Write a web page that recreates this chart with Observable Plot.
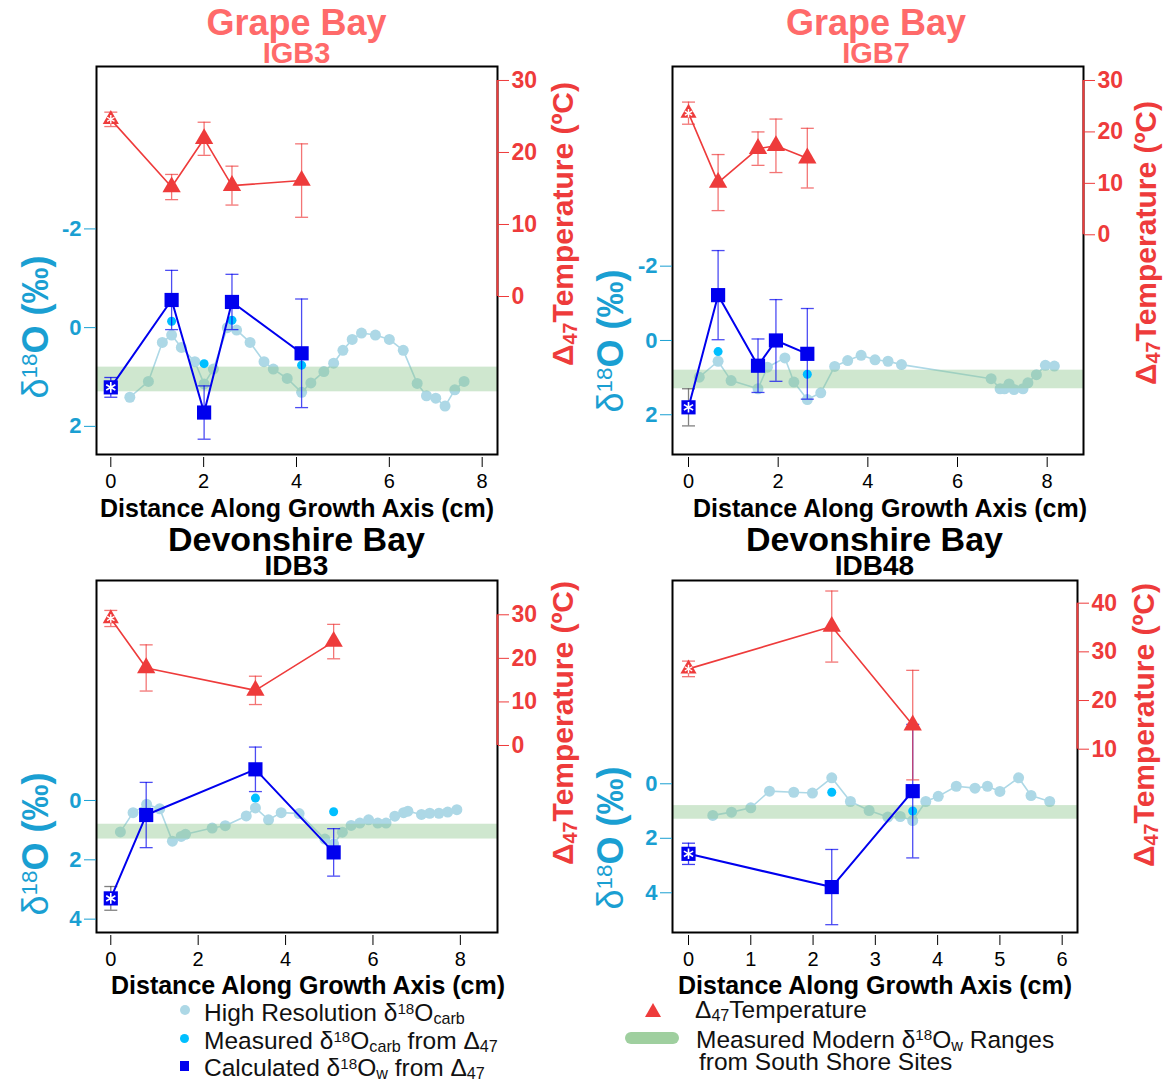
<!DOCTYPE html>
<html>
<head>
<meta charset="utf-8">
<script src="https://cdn.jsdelivr.net/npm/d3@7"></script>
<script src="https://cdn.jsdelivr.net/npm/@observablehq/plot@0.6"></script>
<style>
  body { margin: 0; background: #fff; font-family: "Liberation Sans", Arial, sans-serif; }
  #root { position: relative; width: 1165px; height: 1084px; overflow: hidden; background: #fff; }
  .sup { font-size: 62%; position: relative; top: -0.5em; }
  .sub { font-size: 66%; position: relative; top: 0.2em; }
  .nb { font-weight: normal; }
</style>
</head>
<body>
<div id="root"></div>
<script>
// ---------------- DATA ----------------
const sites = ["Grape Bay", "Grape Bay", "Devonshire Bay", "Devonshire Bay"];
const specimens = ["IGB3", "IGB7", "IDB3", "IDB48"];
const xAxisLabel = "Distance Along Growth Axis (cm)";
const modernRange = [0.8, 1.3]; // measured modern d18Ow range, south shore sites

// IGB3
const igb3HiResX = [0.41, 0.81, 1.11, 1.31, 1.52, 1.81, 2.01, 2.21, 2.51, 2.71, 3.00, 3.30, 3.50, 3.80, 4.11, 4.31, 4.59, 4.80, 5.00, 5.20, 5.40, 5.70, 6.00, 6.30, 6.60, 6.80, 7.00, 7.20, 7.41, 7.61];
const igb3HiResD18O = [1.41, 1.09, 0.30, 0.15, 0.40, 0.69, 1.14, 0.84, 0.00, 0.05, 0.30, 0.69, 0.84, 1.03, 1.31, 1.12, 0.89, 0.72, 0.46, 0.24, 0.11, 0.15, 0.24, 0.46, 1.13, 1.38, 1.43, 1.59, 1.26, 1.09];
const igb3MeasX = [1.31, 2.01, 2.61, 4.11];
const igb3MeasD18O = [-0.13, 0.73, -0.15, 0.76];
const igb3CalcX = [0, 1.31, 2.01, 2.61, 4.11];
const igb3CalcD18Ow = [1.21, -0.56, 1.72, -0.52, 0.52];
const igb3CalcErr = [0.2, 0.6, 0.54, 0.56, 1.1];
const igb3TempX = [0, 1.31, 2.01, 2.61, 4.11];
const igb3Temp = [24.6, 15.2, 21.9, 15.4, 16.1];
const igb3TempErr = [1.0, 1.75, 2.3, 2.7, 5.1];

// IGB7
const igb7HiResX = [0.24, 0.66, 0.95, 1.55, 1.76, 2.15, 2.35, 2.65, 2.95, 3.26, 3.55, 3.85, 4.16, 4.45, 4.75, 6.75, 6.95, 7.05, 7.15, 7.26, 7.46, 7.57, 7.76, 7.96, 8.16];
const igb7HiResD18O = [0.99, 0.56, 1.08, 1.30, 0.72, 0.47, 1.12, 1.59, 1.41, 0.70, 0.54, 0.40, 0.52, 0.56, 0.65, 1.03, 1.30, 1.30, 1.17, 1.32, 1.30, 1.14, 0.92, 0.67, 0.69];
const igb7MeasX = [0.66, 2.65];
const igb7MeasD18O = [0.30, 0.91];
const igb7CalcX = [0, 0.66, 1.55, 1.95, 2.65];
const igb7CalcD18Ow = [1.80, -1.22, 0.68, 0.0, 0.36];
const igb7CalcErr = [0.5, 1.2, 0.72, 1.1, 1.22];
const igb7TempX = [0, 0.66, 1.55, 1.95, 2.65];
const igb7Temp = [23.65, 10.15, 16.75, 17.3, 14.9];
const igb7TempErr = [2.15, 5.45, 3.25, 5.2, 5.8];

// IDB3
const idb3HiResX = [0.22, 0.51, 0.82, 1.12, 1.41, 1.61, 1.71, 2.32, 2.62, 3.10, 3.31, 3.61, 3.90, 4.31, 4.90, 5.10, 5.30, 5.50, 5.70, 5.90, 6.11, 6.30, 6.50, 6.70, 6.80, 7.11, 7.30, 7.51, 7.71, 7.92];
const idb3HiResD18O = [1.06, 0.41, 0.13, 0.28, 1.37, 1.21, 1.14, 0.93, 0.85, 0.52, 0.25, 0.65, 0.41, 0.44, 1.30, 1.47, 1.07, 0.84, 0.76, 0.65, 0.76, 0.76, 0.53, 0.41, 0.36, 0.47, 0.43, 0.43, 0.39, 0.31];
const idb3MeasX = [3.31, 5.10];
const idb3MeasD18O = [-0.08, 0.38];
const idb3CalcX = [0, 0.81, 3.31, 5.10];
const idb3CalcD18Ow = [3.3, 0.49, -1.05, 1.75];
const idb3CalcErr = [0.4, 1.1, 0.75, 0.8];
const idb3TempX = [0, 0.81, 3.31, 5.10];
const idb3Temp = [29.15, 17.8, 12.65, 23.85];
const idb3TempErr = [1.85, 5.3, 3.25, 3.95];

// IDB48
const idb48HiResX = [0.39, 0.69, 1.00, 1.30, 1.69, 1.99, 2.30, 2.60, 2.90, 3.20, 3.40, 3.60, 3.81, 4.01, 4.30, 4.60, 4.80, 5.00, 5.30, 5.50, 5.80];
const idb48HiResD18O = [1.16, 1.04, 0.88, 0.27, 0.31, 0.34, -0.22, 0.65, 0.98, 1.22, 1.20, 1.35, 0.65, 0.46, 0.09, 0.16, 0.09, 0.28, -0.22, 0.43, 0.65];
const idb48MeasX = [2.30, 3.60];
const idb48MeasD18O = [0.31, 1.00];
const idb48CalcX = [0, 2.30, 3.60];
const idb48CalcD18Ow = [2.57, 3.79, 0.27];
const idb48CalcErr = [0.39, 1.38, 2.45];
const idb48TempX = [0, 2.30, 3.60];
const idb48Temp = [26.5, 35.2, 14.95];
const idb48TempErr = [1.6, 7.3, 11.25];

// tick labels
const xTicks8 = [0, 2, 4, 6, 8];
const xTicks6 = [0, 1, 2, 3, 4, 5, 6];
const d18OTicksTop = [-2, 0, 2];
const d18OTicksBottom = [0, 2, 4];
const tempTicksA = [0, 10, 20, 30];
const tempTicksB = [10, 20, 30, 40];

// ---------------- STYLE ----------------
const FONT = '"Liberation Sans", Arial, sans-serif';
const LIGHT = "#add8e6";
const CYAN = "#00bfff";
const BLUE = "#0000ee";
const RED = "#ee3b3b";
const AXCYAN = "#1a9fd2";
const TITLERED = "#ff6a6a";
const BAND = "#8cc68c";

const capSymbol = {
  draw(ctx, size) {
    const w = Math.sqrt(size / Math.PI);
    ctx.moveTo(-w, 0);
    ctx.lineTo(w, 0);
  }
};

const zipPts = (xs, ys, es) => xs.map((x, i) => ({x, y: ys[i], e: es ? es[i] : 0}));

const panels = [
  {left: 0, top: 0, w: 580, h: 520, mL: 96, mR: 83, mT: 66, mB: 66,
   xDomain: [-0.308, 8.33], dDomain: [2.57, -5.29], tDomain: [-21.94, 31.94],
   xTicks: xTicks8, dTicks: d18OTicksTop, tTicks: tempTicksA,
   hiX: igb3HiResX, hiY: igb3HiResD18O, measX: igb3MeasX, measY: igb3MeasD18O,
   calcX: igb3CalcX, calcY: igb3CalcD18Ow, calcE: igb3CalcErr,
   tempX: igb3TempX, tempY: igb3Temp, tempE: igb3TempErr,
   modernErr: BLUE, xlabDx: 0, xlabDy: 54, titleColor: TITLERED},
  {left: 585, top: 0, w: 580, h: 520, mL: 87, mR: 82, mT: 66, mB: 66,
   xDomain: [-0.357, 8.81], dDomain: [3.07, -7.375], tDomain: [-42.72, 32.72],
   xTicks: xTicks8, dTicks: d18OTicksTop, tTicks: tempTicksA,
   hiX: igb7HiResX, hiY: igb7HiResD18O, measX: igb7MeasX, measY: igb7MeasD18O,
   calcX: igb7CalcX, calcY: igb7CalcD18Ow, calcE: igb7CalcErr,
   tempX: igb7TempX, tempY: igb7Temp, tempE: igb7TempErr,
   modernErr: "#555555", xlabDx: 12, xlabDy: 54, titleColor: TITLERED},
  {left: 0, top: 520, w: 580, h: 475, mL: 96, mR: 83, mT: 60, mB: 63,
   xDomain: [-0.327, 8.85], dDomain: [4.45, -7.415], tDomain: [-42.92, 37.87],
   xTicks: xTicks8, dTicks: d18OTicksBottom, tTicks: tempTicksA,
   hiX: idb3HiResX, hiY: idb3HiResD18O, measX: idb3MeasX, measY: idb3MeasD18O,
   calcX: idb3CalcX, calcY: idb3CalcD18Ow, calcE: idb3CalcErr,
   tempX: idb3TempX, tempY: idb3Temp, tempE: idb3TempErr,
   modernErr: "#555555", xlabDx: 11, xlabDy: 53, titleColor: "#000"},
  {left: 585, top: 520, w: 580, h: 475, mL: 87, mR: 88, mT: 60, mB: 63,
   xDomain: [-0.257, 6.246], dDomain: [5.457, -7.46], tDomain: [-27.66, 44.66],
   xTicks: xTicks6, dTicks: d18OTicksBottom, tTicks: tempTicksB,
   hiX: idb48HiResX, hiY: idb48HiResD18O, measX: idb48MeasX, measY: idb48MeasD18O,
   calcX: idb48CalcX, calcY: idb48CalcD18Ow, calcE: idb48CalcErr,
   tempX: idb48TempX, tempY: idb48Temp, tempE: idb48TempErr,
   modernErr: BLUE, xlabDx: 0, xlabDy: 53, titleColor: "#000"}
];

const root = document.getElementById("root");

function errMarks(data, color, opacity) {
  return [
    Plot.ruleX(data, {x: "x", y1: d => d.y - d.e, y2: d => d.y + d.e, stroke: color, strokeOpacity: opacity, strokeWidth: 1.3}),
    Plot.dot(data, {x: "x", y: d => d.y - d.e, symbol: capSymbol, r: 6.5, fill: "none", stroke: color, strokeOpacity: opacity, strokeWidth: 1.3}),
    Plot.dot(data, {x: "x", y: d => d.y + d.e, symbol: capSymbol, r: 6.5, fill: "none", stroke: color, strokeOpacity: opacity, strokeWidth: 1.3})
  ];
}

function makePanel(p) {
  const base = {
    width: p.w, height: p.h,
    marginLeft: p.mL, marginRight: p.mR, marginTop: p.mT, marginBottom: p.mB,
    style: {background: "transparent", overflow: "visible", fontFamily: FONT, color: "black"}
  };
  const hi = zipPts(p.hiX, p.hiY);
  const meas = zipPts(p.measX, p.measY);
  const calc = zipPts(p.calcX, p.calcY, p.calcE);
  const temp = zipPts(p.tempX, p.tempY, p.tempE);
  const calcM = calc.filter(d => d.x === 0), calcO = calc.filter(d => d.x !== 0);
  const tempM = temp.filter(d => d.x === 0), tempO = temp.filter(d => d.x !== 0);

  const leftPlot = Plot.plot({
    ...base,
    x: {domain: p.xDomain},
    y: {domain: p.dDomain},
    marks: [
      Plot.line(hi, {x: "x", y: "y", stroke: LIGHT, strokeWidth: 1.6}),
      Plot.dot(hi, {x: "x", y: "y", r: 5.5, fill: LIGHT}),
      Plot.rect([{lo: modernRange[0], hi: modernRange[1]}], {y1: "lo", y2: "hi", fill: BAND, fillOpacity: 0.42}),
      Plot.dot(meas, {x: "x", y: "y", r: 4.5, fill: CYAN}),
      ...errMarks(calcO, BLUE, 0.7),
      ...errMarks(calcM, p.modernErr, 0.75),
      Plot.line(calc, {x: "x", y: "y", stroke: BLUE, strokeWidth: 2}),
      Plot.dot(calc, {x: "x", y: "y", symbol: "square", r: 8, fill: BLUE}),
      Plot.dot(calcM, {x: "x", y: "y", symbol: "asterisk", r: 5, stroke: "white", strokeWidth: 1.6}),
      Plot.frame({stroke: "black", strokeWidth: 2}),
      Plot.axisX({ticks: p.xTicks, tickSize: 10, tickPadding: 6, dy: 3, fontSize: 20, label: null, tickFormat: d => String(d)}),
      Plot.axisY({anchor: "left", ticks: p.dTicks, tickSize: 12, tickPadding: 3, fontSize: 22, fontWeight: "bold", color: AXCYAN, label: null, tickFormat: d => String(d)}),
      Plot.text([xAxisLabel], {text: d => d, frameAnchor: "bottom", lineAnchor: "middle", dx: p.xlabDx, dy: p.xlabDy, fontSize: 25, fontWeight: "bold", fill: "black"})
    ]
  });

  const rightPlot = Plot.plot({
    ...base,
    x: {domain: p.xDomain, axis: null},
    y: {domain: p.tDomain},
    marks: [
      ...errMarks(temp, RED, 0.7),
      Plot.line(temp, {x: "x", y: "y", stroke: RED, strokeWidth: 1.6}),
      Plot.dot(tempO, {x: "x", y: "y", symbol: "triangle", r: 6.8, fill: RED}),
      Plot.dot(tempM, {x: "x", y: "y", symbol: "triangle", r: 6, fill: RED}),
      Plot.dot(tempM, {x: "x", y: "y", symbol: "asterisk", r: 4, stroke: "white", strokeWidth: 1.4}),
      Plot.ruleX([p.xDomain[1]], {y1: p.tTicks[0], y2: p.tTicks[p.tTicks.length - 1], stroke: RED, strokeWidth: 2}),
      Plot.axisY({anchor: "right", ticks: p.tTicks, tickSize: 11, tickPadding: 3, fontSize: 23, fontWeight: "bold", color: RED, label: null, tickFormat: d => String(d)})
    ]
  });

  for (const svg of [leftPlot, rightPlot]) {
    const wrap = document.createElement("div");
    Object.assign(wrap.style, {position: "absolute", left: p.left + "px", top: p.top + "px", width: p.w + "px", height: p.h + "px"});
    svg.style.maxWidth = "none";
    wrap.appendChild(svg);
    root.appendChild(wrap);
  }
}

panels.forEach(makePanel);

// ---------------- TEXT (titles, axis titles, legend) ----------------
function addHTML(html, css) {
  const d = document.createElement("div");
  d.innerHTML = html;
  Object.assign(d.style, {position: "absolute", whiteSpace: "nowrap", lineHeight: "1"}, css);
  root.appendChild(d);
  return d;
}
function addLeft(html, x, baseline, fs, extra = {}) {
  return addHTML(html, {left: x + "px", top: (baseline - 0.8465 * fs) + "px", fontSize: fs + "px", ...extra});
}
function addRotated(html, cx, cy, fs, extra = {}) {
  return addHTML(html, {left: cx + "px", top: cy + "px", fontSize: fs + "px", transform: "translate(-50%,-50%) rotate(-90deg)", ...extra});
}
// two-line block: first baseline b1, second baseline b1 + gap
function addTwoLine(html, x, b1, fs, gap, extra = {}) {
  const top = b1 - ((gap - 1.117 * fs) / 2 + 0.905 * fs);
  return addHTML(html, {left: x + "px", top: top + "px", fontSize: fs + "px", lineHeight: gap + "px", ...extra});
}

// panel titles (site + specimen)
const titlePos = [
  {cx: 296.5, b1: 35, gap: 28, f1: 36, f2: 29},
  {cx: 876, b1: 35, gap: 28, f1: 36, f2: 29},
  {cx: 296.5, b1: 551, gap: 24, f1: 34, f2: 28},
  {cx: 874.5, b1: 551, gap: 24, f1: 34, f2: 28}
];
titlePos.forEach((t, i) => {
  addTwoLine(`${sites[i]}<br><span style="font-size:${t.f2}px">${specimens[i]}</span>`, t.cx, t.b1, t.f1, t.gap,
    {fontWeight: "bold", color: panels[i].titleColor, textAlign: "center", transform: "translateX(-50%)"});
});

// axis titles
const d18OLabel = '<span class="nb">δ</span><span class="sup nb">18</span>O (‰)';
const tempLabel = 'Δ<span class="sub">47</span>Temperature (ºC)';
[[36, 327], [611, 341], [36, 844], [611, 838]].forEach(([cx, cy]) =>
  addRotated(d18OLabel, cx, cy, 36, {fontWeight: "bold", color: AXCYAN}));
[[563, 224], [1146, 243], [563, 723], [1144, 725]].forEach(([cx, cy]) =>
  addRotated(tempLabel, cx, cy, 30, {fontWeight: "bold", color: RED}));

// legend
const legendLeft = [
  'High Resolution δ<span class="sup">18</span>O<span class="sub">carb</span>',
  'Measured δ<span class="sup">18</span>O<span class="sub">carb</span> from Δ<span class="sub">47</span>',
  'Calculated δ<span class="sup">18</span>O<span class="sub">w</span> from Δ<span class="sub">47</span>'
];
const legendRight = [
  'Δ<span class="sub">47</span>Temperature',
  'Measured Modern δ<span class="sup">18</span>O<span class="sub">w</span> Ranges<br><span style="margin-left:3px">from South Shore Sites</span>'
];
const LFS = 24.5;
[1022, 1050, 1077].forEach((b, i) => addLeft(legendLeft[i], 204, b, LFS, {color: "#111"}));
addLeft(legendRight[0], 695, 1019, LFS, {color: "#111"});
addTwoLine(legendRight[1], 696, 1048, LFS, 19, {color: "#111"});

// legend keys
addHTML("", {left: "180px", top: "1005px", width: "10px", height: "10px", borderRadius: "50%", background: LIGHT});
addHTML("", {left: "179.5px", top: "1033.5px", width: "9px", height: "9px", borderRadius: "50%", background: CYAN});
addHTML("", {left: "179.5px", top: "1061px", width: "9px", height: "10px", background: BLUE});
addHTML('<svg width="16" height="14"><path d="M8,0L16,14L0,14Z" fill="' + RED + '"/></svg>', {left: "645px", top: "1003px", width: "16px", height: "14px"});
addHTML("", {left: "625px", top: "1032px", width: "54px", height: "12px", borderRadius: "6px", background: "#9fcf9f"});
</script>
</body>
</html>
